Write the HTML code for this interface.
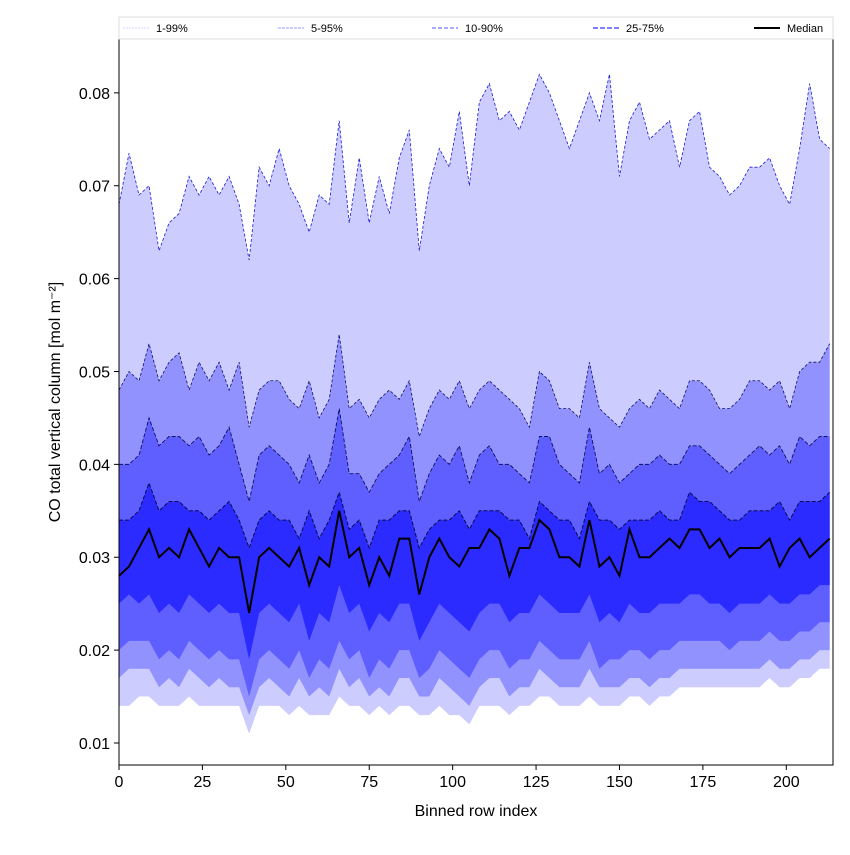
<!DOCTYPE html>
<html><head><meta charset="utf-8"><style>
body{margin:0;background:#fff;font-family:"Liberation Sans",sans-serif;}
svg text{font-family:"Liberation Sans",sans-serif;}
</style></head><body>
<svg id="chart" width="850" height="850" viewBox="0 0 850 850"></svg>
<script>
const idx=[0,3,6,9,12,15,18,21,24,27,30,33,36,39,42,45,48,51,54,57,60,63,66,69,72,75,78,81,84,87,90,93,96,99,102,105,108,111,114,117,120,123,126,129,132,135,138,141,144,147,150,153,156,159,162,165,168,171,174,177,180,183,186,189,192,195,198,201,204,207,210,213];
const p99=[.068,.0735,.069,.070,.063,.066,.067,.071,.069,.071,.069,.071,.068,.062,.072,.070,.074,.070,.068,.065,.069,.068,.077,.066,.073,.066,.071,.067,.073,.076,.063,.070,.074,.072,.078,.070,.079,.081,.077,.078,.076,.079,.082,.080,.077,.074,.077,.080,.077,.082,.071,.077,.079,.075,.076,.077,.072,.077,.078,.072,.071,.069,.070,.072,.072,.073,.070,.068,.074,.081,.075,.074];
const p95=[.048,.050,.049,.053,.049,.051,.052,.048,.051,.049,.051,.048,.051,.044,.048,.049,.049,.047,.046,.049,.045,.047,.054,.046,.047,.045,.047,.048,.047,.049,.043,.046,.048,.047,.049,.046,.048,.049,.048,.047,.046,.044,.050,.049,.046,.046,.045,.051,.046,.045,.044,.046,.047,.046,.048,.047,.046,.049,.049,.048,.046,.046,.047,.049,.049,.048,.049,.046,.050,.051,.051,.053];
const p90=[.040,.040,.041,.045,.042,.043,.043,.042,.043,.041,.042,.044,.040,.036,.041,.042,.041,.040,.038,.041,.038,.040,.046,.039,.039,.037,.039,.040,.041,.043,.036,.039,.041,.040,.042,.038,.041,.042,.040,.040,.039,.038,.043,.043,.040,.039,.038,.044,.039,.040,.038,.039,.040,.040,.041,.040,.040,.042,.042,.041,.040,.039,.040,.041,.042,.041,.042,.040,.043,.042,.043,.043];
const p75=[.034,.034,.035,.038,.035,.036,.036,.035,.035,.034,.035,.036,.034,.031,.034,.035,.034,.034,.032,.035,.032,.034,.037,.033,.034,.031,.034,.034,.035,.035,.031,.033,.034,.034,.035,.033,.035,.035,.035,.034,.034,.032,.036,.035,.034,.034,.032,.036,.034,.034,.033,.034,.034,.034,.035,.034,.034,.037,.036,.036,.035,.034,.034,.035,.035,.035,.036,.034,.036,.036,.036,.037];
const median=[.028,.029,.031,.033,.030,.031,.030,.033,.031,.029,.031,.030,.030,.024,.030,.031,.030,.029,.031,.027,.030,.029,.035,.030,.031,.027,.030,.028,.032,.032,.026,.030,.032,.030,.029,.031,.031,.033,.032,.028,.031,.031,.034,.033,.030,.030,.029,.034,.029,.030,.028,.033,.030,.030,.031,.032,.031,.033,.033,.031,.032,.030,.031,.031,.031,.032,.029,.031,.032,.030,.031,.032];
const p25=[.025,.026,.025,.026,.024,.025,.024,.026,.025,.024,.025,.024,.024,.019,.024,.025,.024,.023,.025,.021,.024,.023,.027,.024,.025,.022,.024,.023,.025,.025,.021,.023,.025,.024,.023,.022,.024,.025,.025,.023,.024,.024,.026,.025,.024,.024,.024,.026,.023,.024,.023,.025,.024,.024,.025,.025,.025,.026,.026,.025,.025,.024,.025,.025,.025,.026,.025,.025,.026,.026,.027,.027];
const p10=[.020,.021,.021,.021,.019,.020,.019,.021,.020,.019,.020,.019,.019,.015,.019,.020,.019,.018,.020,.017,.019,.018,.021,.019,.020,.017,.019,.018,.020,.020,.017,.018,.020,.019,.018,.017,.019,.020,.020,.018,.019,.019,.021,.020,.019,.019,.019,.021,.018,.019,.019,.020,.020,.019,.020,.020,.021,.021,.021,.021,.021,.020,.021,.021,.021,.022,.021,.021,.022,.022,.023,.023];
const p5=[.017,.018,.018,.018,.016,.017,.016,.018,.017,.016,.017,.016,.016,.013,.016,.017,.016,.015,.017,.015,.016,.015,.018,.016,.017,.015,.016,.015,.017,.017,.015,.015,.017,.016,.015,.014,.016,.017,.017,.015,.016,.016,.018,.017,.016,.016,.016,.018,.016,.016,.016,.017,.017,.016,.017,.017,.018,.018,.018,.018,.018,.018,.018,.018,.018,.019,.018,.018,.019,.019,.020,.020];
const p1=[.014,.014,.015,.015,.014,.014,.014,.015,.014,.014,.014,.014,.014,.011,.014,.014,.014,.013,.014,.013,.013,.013,.015,.014,.014,.013,.014,.013,.014,.014,.013,.013,.014,.013,.013,.012,.014,.014,.014,.013,.014,.014,.015,.015,.014,.014,.014,.015,.014,.014,.014,.015,.015,.014,.015,.015,.016,.016,.016,.016,.016,.016,.016,.016,.016,.017,.016,.016,.017,.017,.018,.018];
const xTicks=[0,25,50,75,100,125,150,175,200];
const yTicks=[0.01,0.02,0.03,0.04,0.05,0.06,0.07,0.08];
const yLabels=["0.01","0.02","0.03","0.04","0.05","0.06","0.07","0.08"];

const L=119,R=833,T=39,B=765;
const X0=0,X1=214,Y0=0.00763,Y1=0.0858;
const sx=v=>L+(v-X0)/(X1-X0)*(R-L);
const sy=v=>B-(v-Y0)/(Y1-Y0)*(B-T);
const NS="http://www.w3.org/2000/svg";
const svg=document.getElementById('chart');
function mk(tag,attrs,parent){const e=document.createElementNS(NS,tag);for(const k in attrs)e.setAttribute(k,attrs[k]);(parent||svg).appendChild(e);return e;}
const clip=mk('clipPath',{id:'plotclip'},mk('defs',{}));
mk('rect',{x:L,y:T,width:R-L,height:B-T},clip);
const g=mk('g',{'clip-path':'url(#plotclip)'});


function band(lo,hi,color,name){
  let d='M'+idx.map((x,i)=>sx(x)+','+sy(hi[i])).join(' L');
  for(let i=idx.length-1;i>=0;i--)d+=' L'+sx(idx[i])+','+sy(lo[i]);
  const p=mk('path',{d:d+'Z',fill:color,stroke:'none'},g);
  
  
}
function line(arr,color,w,dash,name){
  const p=mk('path',{d:'M'+idx.map((x,i)=>sx(x)+','+sy(arr[i])).join(' L'),fill:'none',stroke:color,'stroke-width':w,'stroke-dasharray':dash},g);
  
  
}
band(p1,p99,'#ccccff','band-1-99');
band(p5,p95,'#9292ff','band-5-95');
band(p10,p90,'#5f5fff','band-10-90');
band(p25,p75,'#2b2bff','band-25-75');
line(p99,'#1a1ad0',0.8,'3,2','line-p99');
line(p95,'#10106a',0.8,'3,2','line-p95');
line(p90,'#101060',0.9,'4,2','line-p90');
line(p75,'#0a0a50',1,'4,2','line-p75');
line(median,'#000',2,'','median-line');
mk('rect',{x:L,y:T,width:R-L,height:B-T,fill:'none',stroke:'#000','stroke-width':1});
xTicks.forEach(v=>{
  mk('line',{x1:sx(v),x2:sx(v),y1:B,y2:B+5,stroke:'#000'});
  const t=mk('text',{x:sx(v),y:B+22,'text-anchor':'middle','font-size':16});
  t.textContent=v;
  
  
});
yTicks.forEach((v,i)=>{
  mk('line',{x1:L-5,x2:L,y1:sy(v),y2:sy(v),stroke:'#000'});
  const t=mk('text',{x:L-9,y:sy(v)+6,'text-anchor':'end','font-size':16});
  t.textContent=yLabels[i];
  
  
});
const xl=mk('text',{x:(L+R)/2,y:816,'text-anchor':'middle','font-size':16});
xl.textContent='Binned row index';


const yl=mk('text',{x:0,y:0,'text-anchor':'middle','font-size':16,transform:'translate(60,402) rotate(-90)'});
yl.textContent='CO total vertical column [mol m⁻²]';


// legend
const lg=mk('g',{});


mk('rect',{x:L,y:17,width:R-L,height:22,fill:'#fff',stroke:'#ddd'},lg);
const entries=[['1-99%','#d8d8ff',1,'2,1',123],['5-95%','#9999ff',1,'3,1',278],['10-90%','#7777ff',1.2,'4,2',432],['25-75%','#5555ff',1.5,'5,2',593],['Median','#000',2,'',754]];
entries.forEach(e=>{
  const eg=mk('g',{},lg);
  
  
  mk('line',{x1:e[4],x2:e[4]+26,y1:28,y2:28,stroke:e[1],'stroke-width':e[2],'stroke-dasharray':e[3]},eg);
  const t=mk('text',{x:e[4]+33,y:32,'font-size':11},eg);
  t.textContent=e[0];
});
</script>
</body></html>
